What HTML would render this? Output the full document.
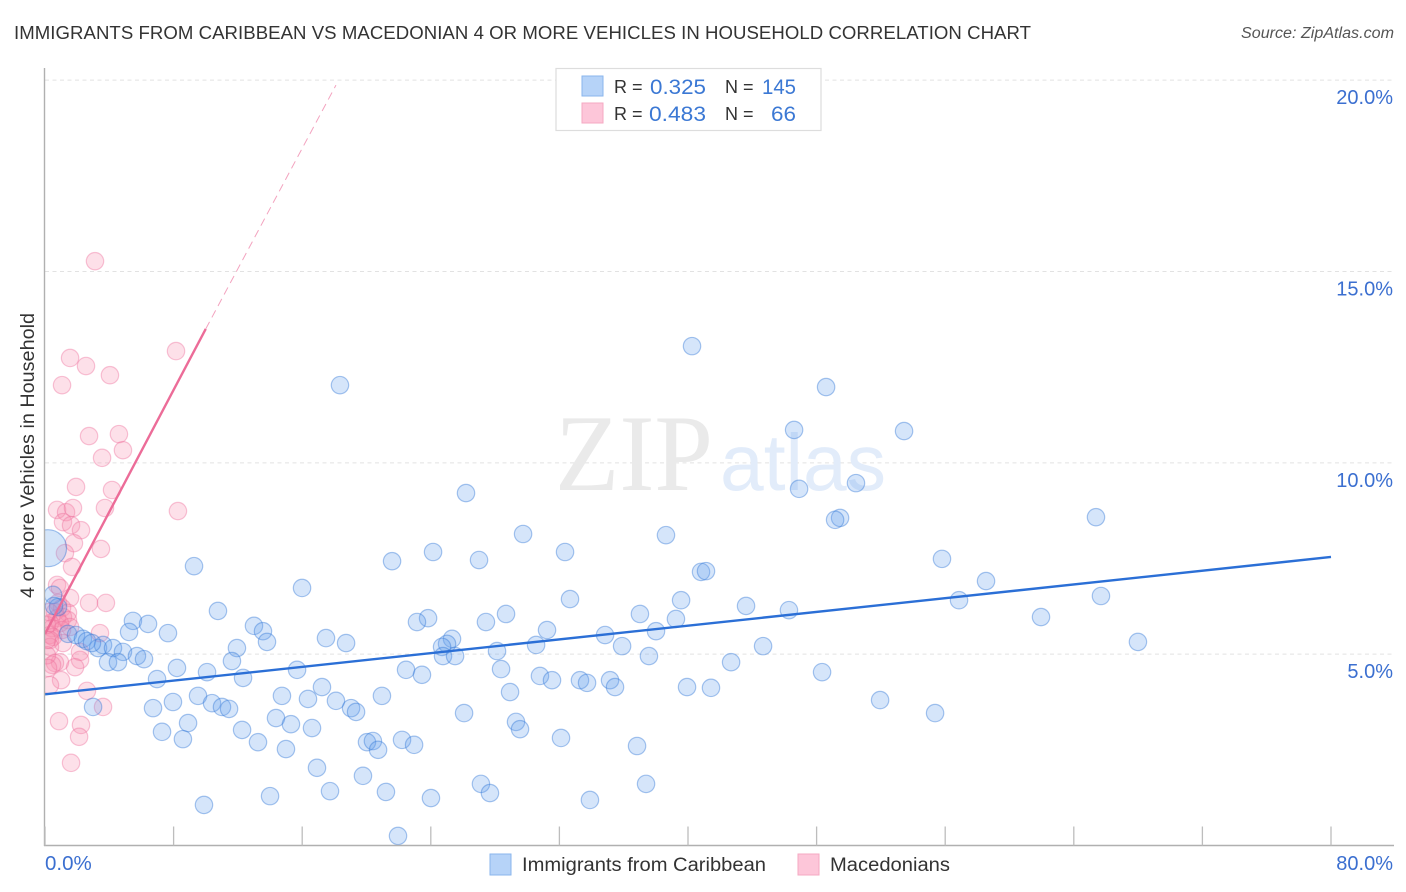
<!DOCTYPE html>
<html lang="en">
<head>
<meta charset="utf-8">
<title>Immigrants from Caribbean vs Macedonian 4 or More Vehicles in Household Correlation Chart</title>
<style>
html,body{margin:0;padding:0;background:#fff;}
svg{display:block;}
text{font-family:"Liberation Sans",sans-serif;}
</style>
</head>
<body>
<svg id="chart" xmlns="http://www.w3.org/2000/svg" width="1406" height="892" viewBox="0 0 1406 892">
  <defs>
    <clipPath id="plot-clip"><rect x="45" y="60" width="1349" height="785"/></clipPath>
  </defs>
  <rect x="0" y="0" width="1406" height="892" fill="#ffffff"/>
  <text x="14" y="39" font-size="18.6" fill="#333" textLength="1017" lengthAdjust="spacing">IMMIGRANTS FROM CARIBBEAN VS MACEDONIAN 4 OR MORE VEHICLES IN HOUSEHOLD CORRELATION CHART</text>
  <text x="1394" y="38" font-size="15.5" font-style="italic" fill="#555" text-anchor="end" textLength="153" lengthAdjust="spacingAndGlyphs">Source: ZipAtlas.com</text>

  <g id="grid"></g>

  <g>
    <text x="555" y="490" font-size="109" style="font-family:'Liberation Serif',serif" fill="#eaeaea" textLength="158" lengthAdjust="spacingAndGlyphs">ZIP</text>
    <text x="720" y="490" font-size="80" fill="#e2ecfa" textLength="166" lengthAdjust="spacingAndGlyphs">atlas</text>
  </g>

  <g id="macedonian-points" clip-path="url(#plot-clip)"></g>
  <g id="caribbean-points" clip-path="url(#plot-clip)"></g>
  <g id="trend-lines"></g>

  <g id="axes">
    <line x1="44.5" y1="68" x2="44.5" y2="846" stroke="#b0b0b0" stroke-width="1.4"/>
    <line x1="44" y1="845.5" x2="1394" y2="845.5" stroke="#b0b0b0" stroke-width="1.4"/>
  </g>
  <text transform="translate(34,455.5) rotate(-90)" font-size="19.5" fill="#333" text-anchor="middle" textLength="285" lengthAdjust="spacingAndGlyphs">4 or more Vehicles in Household</text>

  <g>
    <rect x="556" y="68.5" width="265" height="62" fill="#fff" stroke="#ddd" stroke-width="1.2"/>
    <rect x="582" y="76" width="21" height="20" fill="#b6d3f8" stroke="#8ab6ec"/>
    <rect x="582" y="103" width="21" height="20" fill="#fdc6d9" stroke="#f5a8c2"/>
    <text x="614" y="93" font-size="18" fill="#333">R =</text>
    <text x="650" y="94" font-size="21" fill="#3b78d4" textLength="56" lengthAdjust="spacingAndGlyphs">0.325</text>
    <text x="725" y="93" font-size="18" fill="#333">N =</text>
    <text x="762" y="94" font-size="21" fill="#3b78d4" textLength="34" lengthAdjust="spacingAndGlyphs">145</text>
    <text x="614" y="120" font-size="18" fill="#333">R =</text>
    <text x="649" y="121" font-size="21" fill="#3b78d4" textLength="57" lengthAdjust="spacingAndGlyphs">0.483</text>
    <text x="725" y="120" font-size="18" fill="#333">N =</text>
    <text x="771" y="121" font-size="21" fill="#3b78d4" textLength="25" lengthAdjust="spacingAndGlyphs">66</text>
  </g>

  <g>
    <rect x="490" y="854" width="21" height="21" fill="#b6d3f8" stroke="#8ab6ec"/>
    <text x="522" y="871" font-size="19" fill="#333" textLength="244" lengthAdjust="spacingAndGlyphs">Immigrants from Caribbean</text>
    <rect x="798" y="854" width="21" height="21" fill="#fdc6d9" stroke="#f5a8c2"/>
    <text x="830" y="871" font-size="19" fill="#333" textLength="120" lengthAdjust="spacingAndGlyphs">Macedonians</text>
  </g>
</svg>

<script>
// Axis tick values
const xTickValues = [0, 8, 16, 24, 32, 40, 48, 56, 64, 72, 80];
const yTickValues = [5, 10, 15, 20];
const yTickLabels = ['5.0%', '10.0%', '15.0%', '20.0%'];
const xEndLabels = ['0.0%', '80.0%'];

// Immigrants from Caribbean series (x % , y %)
const caribbeanX = [40.25,48.59,18.35,46.60,53.44,26.19,46.91,50.45,49.46,49.15,65.38,29.74,38.63,32.35,24.14,27.00,21.59,55.80,9.27,40.81,41.12,58.54,15.99,65.69,32.66,56.86,39.57,43.61,46.28,10.76,28.68,37.01,61.96,39.25,23.83,23.14,27.43,5.47,6.41,13.00,13.56,31.23,34.84,38.01,5.23,7.65,17.48,18.73,25.32,25.01,13.81,67.99,30.55,35.90,44.67,11.94,28.12,24.70,24.76,25.51,37.57,11.63,42.68,1.43,1.93,2.36,2.61,3.30,3.61,4.23,4.85,5.72,6.16,3.92,4.54,8.21,10.08,6.97,7.96,9.52,10.39,11.01,11.45,6.72,2.99,7.28,8.90,8.58,12.26,0.50,0.81,15.68,12.32,22.46,23.45,28.37,30.79,31.54,33.28,33.72,35.15,35.46,39.94,41.43,48.34,17.23,14.74,16.36,18.10,19.04,19.35,20.96,28.93,51.95,26.07,55.37,14.37,15.30,29.30,29.55,16.61,32.10,20.03,20.40,20.72,22.21,22.96,13.25,14.99,36.83,16.92,19.78,27.12,37.39,17.73,21.21,27.68,14.00,24.01,33.90,9.89,21.96,0.56,2.92];
const caribbeanY = [13.05,11.98,12.03,10.86,10.83,9.21,9.32,9.47,8.56,8.51,8.58,8.14,8.11,7.67,7.67,7.46,7.43,7.49,7.30,7.15,7.17,6.91,6.73,6.52,6.44,6.41,6.41,6.26,6.15,6.13,6.05,6.05,5.97,5.92,5.94,5.84,5.84,5.87,5.79,5.74,5.60,5.63,5.50,5.60,5.58,5.55,5.42,5.29,5.40,5.27,5.32,5.32,5.24,5.21,5.21,5.16,5.08,5.19,4.95,4.95,4.95,4.82,4.79,5.53,5.50,5.40,5.34,5.16,5.24,5.16,5.06,4.95,4.87,4.79,4.79,4.64,4.53,4.35,3.75,3.91,3.72,3.62,3.57,3.59,3.62,2.97,3.20,2.78,3.02,6.55,6.23,4.59,4.38,4.59,4.46,4.61,4.43,4.32,4.32,4.25,4.32,4.14,4.14,4.12,4.53,4.14,3.91,3.83,3.78,3.59,3.49,3.91,4.01,3.80,3.46,3.46,3.33,3.17,3.23,3.04,3.07,2.81,2.70,2.73,2.50,2.76,2.63,2.70,2.52,2.60,2.03,1.82,1.61,1.61,1.42,1.40,1.37,1.29,1.24,1.19,1.06,0.25,6.26,5.29];
// The one heavily weighted Caribbean observation, drawn larger
const caribbeanLargeX = [0.19];
const caribbeanLargeY = [7.77];

// Macedonians series (x % , y %)
const macedonianX = [3.11,8.15,1.56,2.55,4.04,1.06,2.74,4.60,4.85,3.55,1.93,4.17,0.75,1.31,1.74,3.73,8.27,1.12,1.62,2.24,1.80,1.24,3.48,1.68,0.75,0.93,1.56,2.74,3.79,0.81,1.06,0.62,1.43,1.12,0.75,1.43,0.93,0.31,0.44,1.56,1.06,0.31,0.50,0.31,1.12,0.31,3.42,2.18,2.18,1.87,0.93,0.62,0.44,1.00,0.31,2.61,3.61,0.87,2.24,2.12,1.62,0.12,0.19,0.12,0.25,0.12];
const macedonianY = [15.27,12.92,12.74,12.53,12.29,12.03,10.70,10.75,10.33,10.13,9.37,9.29,8.77,8.71,8.82,8.82,8.74,8.45,8.37,8.24,7.90,7.64,7.75,7.28,6.81,6.73,6.47,6.34,6.34,6.34,6.21,6.10,6.08,5.97,5.94,5.89,5.81,5.81,5.68,5.71,5.63,5.50,5.45,5.37,5.29,5.19,5.55,5.06,4.85,4.66,4.79,4.77,4.72,4.32,4.19,4.04,3.62,3.25,3.15,2.84,2.16,4.97,4.64,5.76,6.10,5.37];

// Trend-line endpoints [x %] and values [y %]
const caribbeanTrendX = [0, 80];
const caribbeanTrendY = [3.95, 7.54];
const macedonianTrendX = [0, 10];
const macedonianTrendY = [5.53, 13.5];
const macedonianProjectionX = [10, 18.1];
const macedonianProjectionY = [13.5, 19.87];

// Axis functions
function xScale(v) { return 45 + v * (1331 - 45) / 80; }
function yScale(v) { return 845.5 - v * (654 - 80) / 15; }

const NS = 'http://www.w3.org/2000/svg';
function make(tag, attrs, parent, text) {
  const el = document.createElementNS(NS, tag);
  for (const k in attrs) el.setAttribute(k, attrs[k]);
  if (text !== undefined) el.textContent = text;
  parent.appendChild(el);
  return el;
}

const gridGroup = document.getElementById('grid');
const axesGroup = document.getElementById('axes');
yTickValues.forEach(function (v, i) {
  const line = make('line', {x1: 45, x2: 1394, y1: yScale(v), y2: yScale(v), stroke: '#e2e2e2', 'stroke-width': 1, 'stroke-dasharray': '4 3.5'}, gridGroup);
  
  
  const label = make('text', {x: 1393, y: yScale(v) + 24, 'font-size': 20, fill: '#3b6fd0', 'text-anchor': 'end'}, axesGroup, yTickLabels[i]);
  
  
});
xTickValues.forEach(function (v) {
  const tick = make('line', {x1: xScale(v), x2: xScale(v), y1: 826.5, y2: 845.5, stroke: '#bdbdbd', 'stroke-width': 1.3}, axesGroup);
  
  
});
const xStartLabel = make('text', {x: 45, y: 870, 'font-size': 20.5, fill: '#3b6fd0'}, axesGroup, xEndLabels[0]);


const xEndLabel = make('text', {x: 1393, y: 870, 'font-size': 20, fill: '#3b6fd0', 'text-anchor': 'end'}, axesGroup, xEndLabels[1]);



const macedonianGroup = document.getElementById('macedonian-points');
macedonianX.forEach(function (x, i) {
  const c = make('circle', {cx: xScale(x), cy: yScale(macedonianY[i]), r: 8.7, fill: 'rgba(248,140,175,0.27)', stroke: 'rgba(238,110,155,0.4)', 'stroke-width': 1.2}, macedonianGroup);
  
  
});

const caribbeanGroup = document.getElementById('caribbean-points');
caribbeanLargeX.forEach(function (x, i) {
  const c = make('circle', {cx: xScale(x), cy: yScale(caribbeanLargeY[i]), r: 18.5, fill: 'rgba(100,160,235,0.28)', stroke: 'rgba(50,120,215,0.45)', 'stroke-width': 1.2}, caribbeanGroup);
  
  
});
caribbeanX.forEach(function (x, i) {
  const c = make('circle', {cx: xScale(x), cy: yScale(caribbeanY[i]), r: 8.7, fill: 'rgba(100,160,235,0.27)', stroke: 'rgba(50,120,215,0.42)', 'stroke-width': 1.2}, caribbeanGroup);
  
  
});

const trendGroup = document.getElementById('trend-lines');
const projection = make('line', {x1: xScale(macedonianProjectionX[0]), y1: yScale(macedonianProjectionY[0]), x2: xScale(macedonianProjectionX[1]), y2: yScale(macedonianProjectionY[1]), stroke: '#f3a3bf', 'stroke-width': 1, 'stroke-dasharray': '8 5'}, trendGroup);


const macedonianTrend = make('line', {x1: xScale(macedonianTrendX[0]), y1: yScale(macedonianTrendY[0]), x2: xScale(macedonianTrendX[1]), y2: yScale(macedonianTrendY[1]), stroke: '#ec6c98', 'stroke-width': 2.4}, trendGroup);


const caribbeanTrend = make('line', {x1: xScale(caribbeanTrendX[0]), y1: yScale(caribbeanTrendY[0]), x2: xScale(caribbeanTrendX[1]), y2: yScale(caribbeanTrendY[1]), stroke: '#2b6fd6', 'stroke-width': 2.4}, trendGroup);


</script>
</body>
</html>
